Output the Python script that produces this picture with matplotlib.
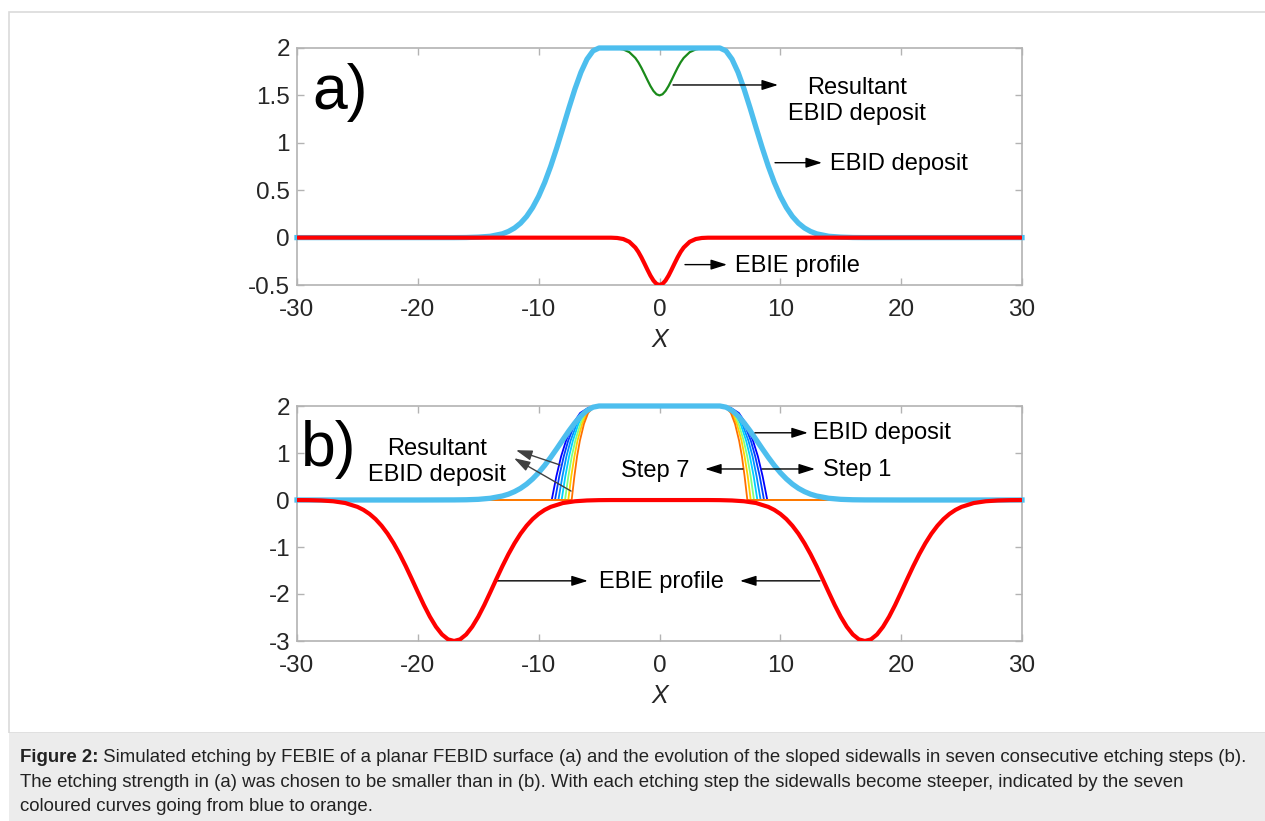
import numpy as np
import matplotlib
matplotlib.use("Agg")
import matplotlib.pyplot as plt
from matplotlib.patches import Rectangle

plt.rcParams.update({
    "font.family": "Liberation Sans",
    "axes.unicode_minus": False,
})

# ── Data ────────────────────────────────────────────────────────────────────
# panel a) EBID deposit
BLUE_A_X = [-30, -20, -17, -16, -15, -14, -13, -12.5, -12, -11.5, -11, -10.5, -10, -9.5, -9, -8.5,
            -8, -7.5, -7, -6.5, -6, -5.5, -5, 5, 5.5, 6, 6.5, 7, 7.5, 8, 8.5, 9, 9.5, 10, 10.5,
            11, 11.5, 12, 12.5, 13, 14, 15, 16, 17, 20, 30]
BLUE_A_Y = [0, 0, 0, 0.001, 0.005, 0.014, 0.040, 0.065, 0.101, 0.152, 0.223, 0.317, 0.436, 0.582,
            0.754, 0.948, 1.155, 1.366, 1.567, 1.744, 1.882, 1.970, 2.0, 2.0, 1.970, 1.882, 1.744,
            1.567, 1.366, 1.155, 0.948, 0.754, 0.582, 0.436, 0.317, 0.223, 0.152, 0.101, 0.065,
            0.040, 0.014, 0.005, 0.001, 0, 0, 0]

# panel a) EBIE profile
RED_A_X = [-30, -4, -3.5, -3, -2.5, -2, -1.75, -1.5, -1.25, -1, -0.75, -0.5, -0.25, 0, 0.25, 0.5,
           0.75, 1, 1.25, 1.5, 1.75, 2, 2.5, 3, 3.5, 4, 30]
RED_A_Y = [0, -0.001, -0.004, -0.015, -0.044, -0.105, -0.151, -0.208, -0.272, -0.338, -0.401,
           -0.453, -0.488, -0.5, -0.488, -0.453, -0.401, -0.338, -0.272, -0.208, -0.151, -0.105,
           -0.044, -0.015, -0.004, -0.001, 0]

# panel a) resultant EBID deposit
GREEN_A_X = [-5, -4, -3.5, -3, -2.5, -2, -1.75, -1.5, -1.25, -1, -0.75, -0.5, -0.25, 0, 0.25, 0.5,
             0.75, 1, 1.25, 1.5, 1.75, 2, 2.5, 3, 3.5, 4, 5]
GREEN_A_Y = [2, 1.999, 1.996, 1.985, 1.956, 1.895, 1.849, 1.792, 1.728, 1.662, 1.599, 1.547, 1.512,
             1.5, 1.512, 1.547, 1.599, 1.662, 1.728, 1.792, 1.849, 1.895, 1.956, 1.985, 1.996,
             1.999, 2]

# panel b) EBID deposit
BLUE_B_X = BLUE_A_X
BLUE_B_Y = [0, 0, 0.002, 0.005, 0.014, 0.037, 0.085, 0.124, 0.178, 0.248, 0.338, 0.449, 0.582,
            0.736, 0.908, 1.092, 1.282, 1.469, 1.642, 1.790, 1.904, 1.975, 2.0, 2.0, 1.975, 1.904,
            1.790, 1.642, 1.469, 1.282, 1.092, 0.908, 0.736, 0.582, 0.449, 0.338, 0.248, 0.178,
            0.124, 0.085, 0.037, 0.014, 0.005, 0.002, 0, 0]

# panel b) EBIE profile (two dips)
RED_B_X = [-30, -29, -28, -27, -26, -25, -24.5, -24, -23.5, -23, -22.5, -22, -21.5, -21, -20.5,
           -20, -19.5, -19, -18.5, -18, -17.5, -17, -16.5, -16, -15.5, -15, -14.5, -14, -13.5,
           -13, -12.5, -12, -11.5, -11, -10.5, -10, -9.5, -9, -8, -7, -6, -5, -4,
           4, 5, 6, 7, 8, 9, 9.5, 10, 10.5, 11, 11.5, 12, 12.5, 13, 13.5, 14, 14.5, 15, 15.5,
           16, 16.5, 17, 17.5, 18, 18.5, 19, 19.5, 20, 20.5, 21, 21.5, 22, 22.5, 23, 23.5, 24,
           24.5, 25, 26, 27, 28, 29, 30]
RED_B_Y = [-0.001, -0.003, -0.010, -0.027, -0.065, -0.146, -0.210, -0.296, -0.407, -0.548, -0.718,
           -0.921, -1.152, -1.408, -1.681, -1.960, -2.234, -2.484, -2.697, -2.861, -2.965, -3.0,
           -2.965, -2.861, -2.697, -2.484, -2.234, -1.960, -1.681, -1.408, -1.152, -0.921, -0.718,
           -0.548, -0.407, -0.296, -0.210, -0.146, -0.065, -0.027, -0.010, -0.003, -0.001,
           -0.001, -0.003, -0.010, -0.027, -0.065, -0.146, -0.210, -0.296, -0.407, -0.548, -0.718,
           -0.921, -1.152, -1.408, -1.681, -1.960, -2.234, -2.484, -2.697, -2.861, -2.965, -3.0,
           -2.965, -2.861, -2.697, -2.484, -2.234, -1.960, -1.681, -1.408, -1.152, -0.921, -0.718,
           -0.548, -0.407, -0.296, -0.210, -0.146, -0.065, -0.027, -0.010, -0.003, -0.001]

# panel b) etching steps 1..7: heights and x where each sidewall reaches them
STEP_LEVELS = [0, 0.51, 0.93, 1.26, 1.62, 1.85, 1.98, 2.0]
STEP_LEFT = [
    [-8.92, -8.53, -8.14, -7.74, -7.16, -6.57, -5.78, -5.0],
    [-8.65, -8.29, -7.92, -7.56, -7.01, -6.46, -5.73, -5.0],
    [-8.37, -8.03, -7.70, -7.36, -6.85, -6.35, -5.67, -5.0],
    [-8.10, -7.79, -7.48, -7.17, -6.71, -6.24, -5.62, -5.0],
    [-7.82, -7.54, -7.26, -6.97, -6.55, -6.13, -5.56, -5.0],
    [-7.55, -7.30, -7.04, -6.79, -6.40, -6.02, -5.51, -5.0],
    [-7.27, -7.04, -6.82, -6.59, -6.25, -5.91, -5.45, -5.0],
]
STEP_RIGHT = [
    [8.92, 8.53, 8.14, 7.74, 7.16, 6.57, 5.78, 5.0],
    [8.65, 8.29, 7.92, 7.56, 7.01, 6.46, 5.73, 5.0],
    [8.37, 8.03, 7.70, 7.36, 6.85, 6.35, 5.67, 5.0],
    [8.10, 7.79, 7.48, 7.17, 6.71, 6.24, 5.62, 5.0],
    [7.82, 7.54, 7.26, 6.97, 6.55, 6.13, 5.56, 5.0],
    [7.55, 7.30, 7.04, 6.79, 6.40, 6.02, 5.51, 5.0],
    [7.27, 7.04, 6.82, 6.59, 6.25, 5.91, 5.45, 5.0],
]
STEP_COLORS = ["#0000FF", "#0040FF", "#0090FF", "#00D0FF", "#80FF80", "#FFD000", "#FF7000"]

X_TICKS = [-30, -20, -10, 0, 10, 20, 30]
YA_TICKS = [-0.5, 0, 0.5, 1, 1.5, 2]
YA_LABELS = ["-0.5", "0", "0.5", "1", "1.5", "2"]
YB_TICKS = [-3, -2, -1, 0, 1, 2]

CAPTION_BOLD = "Figure 2:"
CAPTION_1 = (" Simulated etching by FEBIE of a planar FEBID surface (a) and the evolution of the "
             "sloped sidewalls in seven consecutive etching steps (b).")
CAPTION_2 = ("The etching strength in (a) was chosen to be smaller than in (b). With each etching "
             "step the sidewalls become steeper, indicated by the seven")
CAPTION_3 = "coloured curves going from blue to orange."

C_BLUE = "#4DBEEE"
C_RED = "#FF0000"
C_GREEN = "#1A8A1A"
C_SPINE = "#B3B3B3"
C_TXT = "#262626"

W, H = 1265, 821


def fx(px):
    return px / W


def fy(py):
    return 1 - py / H


fig = plt.figure(figsize=(W / 100, H / 100), dpi=100)

# page frame + caption box
fig.patches.append(Rectangle((fx(9), fy(733)), 1.0, fy(12) - fy(733), transform=fig.transFigure,
                             fill=False, edgecolor="#DADADA", lw=1.2, zorder=0))
fig.patches.append(Rectangle((fx(9), 0), 1.0, fy(733), transform=fig.transFigure,
                             facecolor="#ECECEC", edgecolor="none", zorder=0))


def style_axes(ax, yticks, ylabels, ylim):
    ax.set_xlim(-30, 30)
    ax.set_ylim(*ylim)
    ax.set_xticks(X_TICKS)
    ax.set_xticklabels([str(t) for t in X_TICKS])
    ax.set_yticks(yticks)
    ax.set_yticklabels(ylabels)
    for sp in ax.spines.values():
        sp.set_color(C_SPINE)
        sp.set_linewidth(1.2)
    ax.tick_params(direction="in", length=5, width=1, colors=C_SPINE, labelcolor=C_TXT,
                   top=True, right=True, labelsize=17.5, pad=5)
    ax.tick_params(axis="x", pad=10)
    ax.set_xlabel("X", style="italic", fontsize=18, color=C_TXT, labelpad=5)


def arrow(ax, tail, head, color="k"):
    ax.annotate("", xy=head, xytext=tail,
                arrowprops=dict(arrowstyle="-|>,head_length=0.7,head_width=0.22", color=color,
                                lw=1.0, mutation_scale=14, shrinkA=0, shrinkB=0))


# ── Panel a ────────────────────────────────────────────────────────────────
ax_a = fig.add_axes([fx(297), fy(285), fx(1022) - fx(297), fy(48) - fy(285)])
ax_a.plot(GREEN_A_X, GREEN_A_Y, color=C_GREEN, lw=1.6, zorder=2)
ax_a.plot(BLUE_A_X, BLUE_A_Y, color=C_BLUE, lw=3.8, zorder=3, clip_on=False)
ax_a.plot(RED_A_X, RED_A_Y, color=C_RED, lw=3.0, zorder=4)
style_axes(ax_a, YA_TICKS, YA_LABELS, (-0.5, 2))

ax_a.text(-26.4, 1.36, "a)", fontsize=45, ha="center", va="baseline", color="k")
arrow(ax_a, (1.12, 1.61), (9.81, 1.61))
ax_a.text(16.35, 1.44, "Resultant\nEBID deposit", fontsize=17, ha="center", va="center",
          linespacing=1.2)
arrow(ax_a, (9.56, 0.79), (13.45, 0.79))
ax_a.text(14.1, 0.78, "EBID deposit", fontsize=17, ha="left", va="center")
arrow(ax_a, (2.11, -0.285), (5.59, -0.285))
ax_a.text(6.25, -0.295, "EBIE profile", fontsize=17, ha="left", va="center")

# ── Panel b ────────────────────────────────────────────────────────────────
ax_b = fig.add_axes([fx(297), fy(641), fx(1022) - fx(297), fy(406) - fy(641)])
for left, right, col in zip(STEP_LEFT, STEP_RIGHT, STEP_COLORS):
    xs = [-30] + left + right[::-1] + [30]
    ys = [0] + STEP_LEVELS + STEP_LEVELS[::-1] + [0]
    ax_b.plot(xs, ys, color=col, lw=1.3, zorder=2)
ax_b.plot(BLUE_B_X, BLUE_B_Y, color=C_BLUE, lw=3.8, zorder=3, clip_on=False)
ax_b.plot(RED_B_X, RED_B_Y, color=C_RED, lw=3.0, zorder=4)
style_axes(ax_b, YB_TICKS, [str(t) for t in YB_TICKS], (-3, 2))

ax_b.text(-27.35, 0.72, "b)", fontsize=45, ha="center", va="baseline", color="k")
ax_b.text(-18.4, 0.81, "Resultant\nEBID deposit", fontsize=17, ha="center", va="center",
          linespacing=1.2)
arrow(ax_b, (-8.23, 0.745), (-11.88, 1.06), color="#404040")
arrow(ax_b, (-7.32, 0.19), (-12.04, 0.89), color="#404040")
arrow(ax_b, (7.9, 1.43), (12.28, 1.43))
ax_b.text(12.7, 1.43, "EBID deposit", fontsize=17, ha="left", va="center")
arrow(ax_b, (8.48, 0.66), (12.87, 0.66))
ax_b.text(13.5, 0.64, "Step 1", fontsize=17, ha="left", va="center")
arrow(ax_b, (6.91, 0.66), (3.77, 0.66))
ax_b.text(2.5, 0.62, "Step 7", fontsize=17, ha="right", va="center")
ax_b.text(0.2, -1.74, "EBIE profile", fontsize=17, ha="center", va="center")
arrow(ax_b, (-13.45, -1.72), (-5.93, -1.72))
arrow(ax_b, (13.28, -1.72), (6.66, -1.72))

# ── Caption ────────────────────────────────────────────────────────────────
cap_kw = dict(fontsize=13.4, va="center", color="#222222")
t_bold = fig.text(fx(20), fy(757), CAPTION_BOLD, fontweight="bold", **cap_kw)
fig.canvas.draw()
bb = t_bold.get_window_extent(renderer=fig.canvas.get_renderer())
fig.text(bb.x1 / W, fy(757), CAPTION_1, **cap_kw)
fig.text(fx(20), fy(782), CAPTION_2, **cap_kw)
fig.text(fx(20), fy(806), CAPTION_3, **cap_kw)

fig.savefig("out.png", dpi=100)
